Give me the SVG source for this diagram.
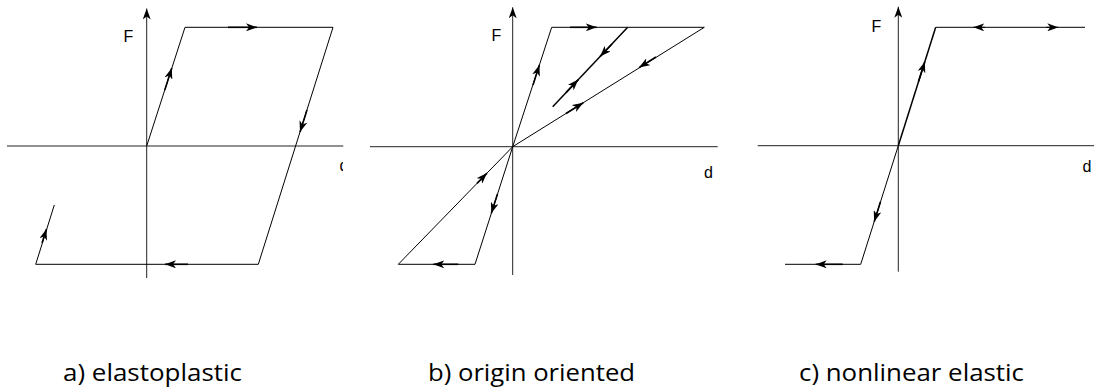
<svg xmlns="http://www.w3.org/2000/svg" width="1094" height="391" viewBox="0 0 1094 391">
<style>
.ln{fill:none;stroke:#000;stroke-width:1}
.ax{fill:none;stroke:#222;stroke-width:1}
.ar{fill:none;stroke:#000;stroke-width:1.6;marker-end:url(#ah)}
.arx{fill:none;stroke:#222;stroke-width:1;marker-end:url(#ah)}
.lbl{font-family:"Liberation Sans",Arial,sans-serif;font-size:16px;fill:#000}
.cap{font-family:"Open Sans","Noto Sans",sans-serif;font-size:23px;fill:#000}
</style>
<defs>
<marker id="ah" viewBox="0 0 11 8" refX="11" refY="4" markerWidth="11" markerHeight="8" markerUnits="userSpaceOnUse" orient="auto">
<path d="M0,0 L11,4 L0,8 L3,4 z" fill="#000"/>
</marker>
<clipPath id="clipA"><rect x="0" y="0" width="343" height="391"/></clipPath>
</defs>
<rect width="1094" height="391" fill="#fff"/>

<g id="panel-a">
<path class="ax" d="M7,146 H343.3"/>
<path class="arx" d="M146.7,278 V8.5"/>
<text class="lbl" x="123.5" y="42.3">F</text>
<text class="lbl" x="339.5" y="171" clip-path="url(#clipA)">d</text>
<path class="ln" d="M146.7,146 L185,27.3 H333 L258.3,264.3 H35.7 L54.3,205"/>
</g>

<g id="panel-b">
<path class="ax" d="M370,146.7 H717.7"/>
<path class="arx" d="M512.7,275 V7.3"/>
<text class="lbl" x="491.5" y="40.7">F</text>
<text class="lbl" x="704" y="178.3">d</text>
<path class="ln" d="M512.7,146.7 L551.7,27.3 H704.3 Z"/>
<path class="ln" d="M512.7,146.7 L398.3,264.3 H475 Z"/>
<path class="ln" style="stroke-width:1.5" d="M552.7,106.7 L627.7,27.3"/>
</g>

<g id="panel-c">
<path class="ax" d="M757.7,145.7 H1094"/>
<path class="arx" d="M898.3,271.7 V6.7"/>
<text class="lbl" x="871.5" y="32.3">F</text>
<text class="lbl" x="1082.5" y="172.3">d</text>
<path class="ln" d="M785,264.3 H860.7 L898.3,145.7"/>
<path class="ln" style="stroke-width:1.5" d="M898.3,145.7 L935.7,27.3"/>
<path class="ln" d="M935.7,27.3 H1085"/>
</g>

<g id="connectors">
<path class="ar" d="M164.8,90 L171.8,68"/>
<path class="ar" d="M228,27.3 L257,27.3"/>
<path class="ar" d="M307,110 L300,132"/>
<path class="ar" d="M188,264.3 L165,264.3"/>
<path class="ar" d="M42,243 L46.5,229"/>

<path class="ar" d="M533,85 L539.4,65"/>
<path class="ar" d="M570,27.3 L596.7,27.3"/>
<path class="ar" d="M656,57 L639,67.6"/>
<path class="ar" d="M566,113.5 L583.3,102.7"/>
<path class="ar" d="M566,92.6 L578.3,79.6"/>
<path class="ar" d="M612,44 L600,56.6"/>
<path class="ar" d="M477,183.4 L487,173.1"/>
<path class="ar" d="M497.5,194 L491.3,213.3"/>
<path class="ar" d="M458.3,264.3 L433.3,264.3"/>

<path class="ar" d="M918.5,81.5 L924.8,61.7"/>
<path class="ar" style="stroke-width:1" d="M985,27.3 L973.3,27.3"/>
<path class="ar" style="stroke-width:1" d="M1046,27.3 L1058.3,27.3"/>
<path class="ar" d="M880.5,201.7 L874.2,221.7"/>
<path class="ar" d="M842.7,264.3 L815.7,264.3"/>
</g>

<g id="captions">
<text class="cap" x="63" y="381" textLength="179" lengthAdjust="spacingAndGlyphs">a) elastoplastic</text>
<text class="cap" x="428" y="381" textLength="207" lengthAdjust="spacingAndGlyphs">b) origin oriented</text>
<text class="cap" x="799" y="381" textLength="225" lengthAdjust="spacingAndGlyphs">c) nonlinear elastic</text>
</g>
</svg>
